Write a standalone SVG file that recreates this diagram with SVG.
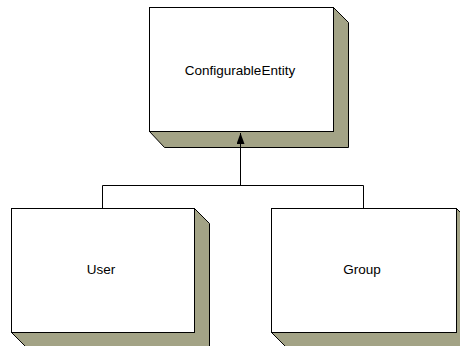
<svg xmlns="http://www.w3.org/2000/svg" width="460" height="346" viewBox="0 0 460 346">
  <style>
    .side { fill: #a3a386; stroke: #000; stroke-width: 1; }
    .face { fill: #fff; stroke: #000; stroke-width: 1; }
    .label { font-family: "Liberation Sans", Arial, sans-serif; font-size: 13.5px; fill: #000; text-anchor: middle; }
    .link { fill: none; stroke: #000; stroke-width: 1; }
  </style>
  <defs>
    <!-- filled triangular head, drawn along +x so orient="auto" follows the line -->
    <marker id="arrow" markerWidth="12" markerHeight="10" refX="11" refY="4" orient="auto" markerUnits="userSpaceOnUse">
      <path d="M0,0 L11,4 L0,8 Z" fill="#000"/>
    </marker>
  </defs>

  <g id="configurable-entity">
    <path class="side" d="M333.5,7.5 L348.5,22.5 L348.5,147.5 L164.5,147.5 L149.5,131.5 L333.5,131.5 Z"/>
    <rect class="face" x="149.5" y="7.5" width="184" height="124"/>
    <text class="label" x="240" y="75">ConfigurableEntity</text>
  </g>

  <g id="user">
    <path class="side" d="M194.5,208.5 L209.5,223.5 L209.5,347.5 L26.5,347.5 L11.5,332.5 L194.5,332.5 Z"/>
    <rect class="face" x="11.5" y="208.5" width="183" height="124"/>
    <text class="label" x="101" y="274">User</text>
  </g>

  <g id="group">
    <path class="side" d="M456.5,208.5 L471.5,223.5 L471.5,347.5 L286.5,347.5 L271.5,332.5 L456.5,332.5 Z"/>
    <rect class="face" x="271.5" y="208.5" width="185" height="124"/>
    <text class="label" x="362" y="274">Group</text>
  </g>

  <g id="connectors">
    <path class="link" d="M102.5,208 L102.5,185.5 L363.5,185.5 L363.5,208"/>
    <path class="link" d="M240.5,185.5 L240.5,133" marker-end="url(#arrow)"/>
  </g>
</svg>
